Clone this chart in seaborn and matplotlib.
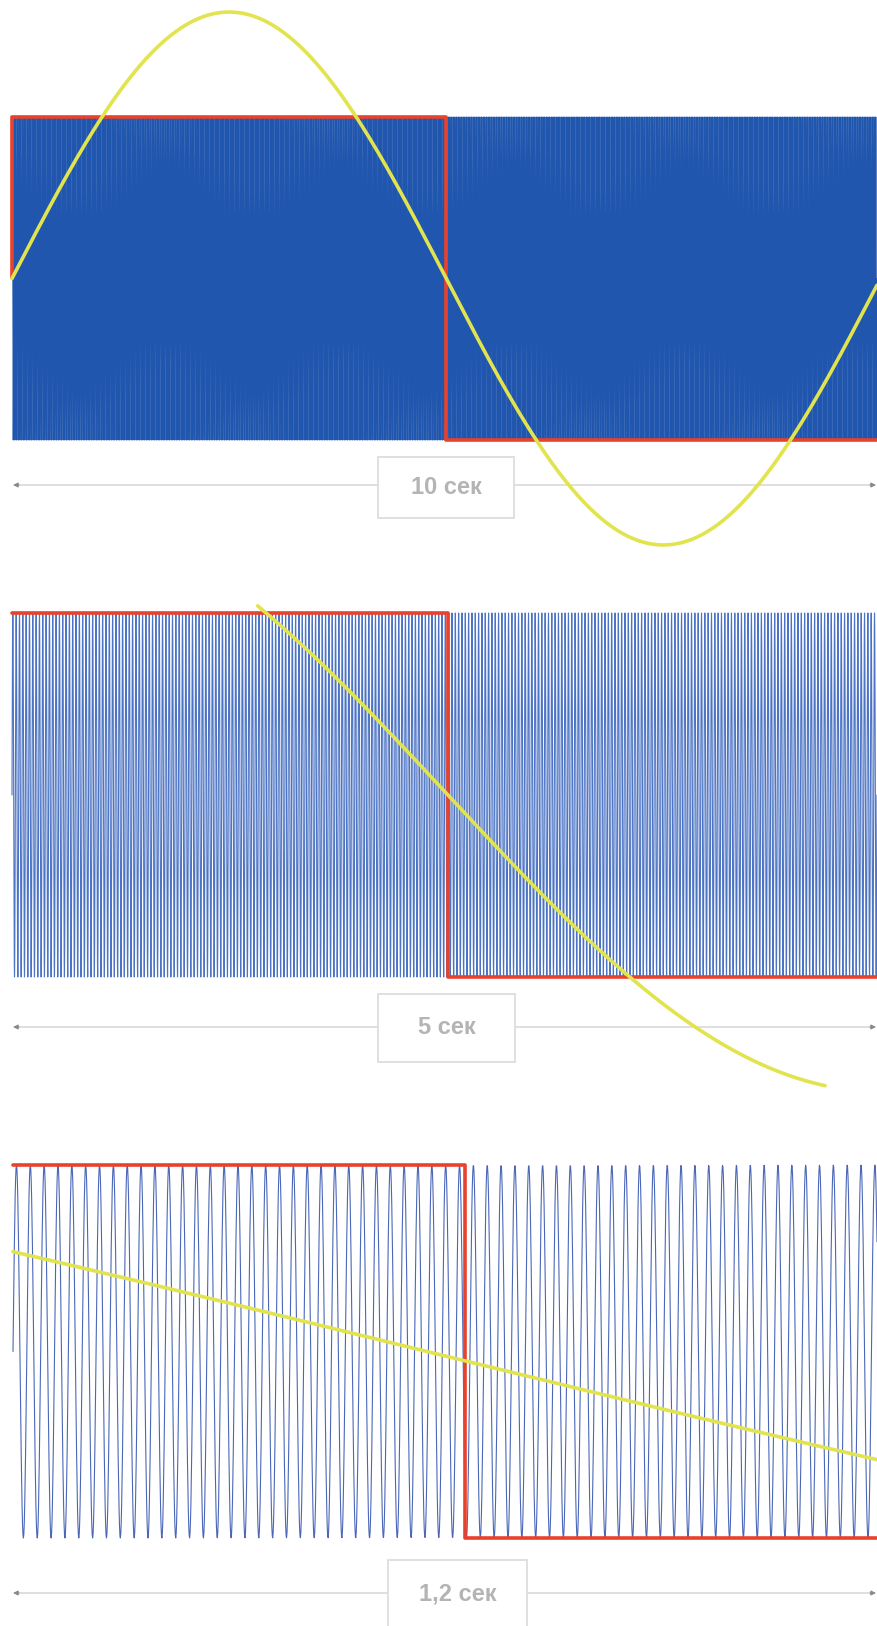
import numpy as np
import pandas as pd
import matplotlib
matplotlib.use('Agg')
import matplotlib.pyplot as plt
from matplotlib.patches import Rectangle, FancyArrowPatch
import seaborn as sns

# values
durations = [10, 5, 1.2]                      # seconds shown in each panel
span_labels = ['10 сек', '5 сек', '1,2 сек']
carrier_hz = 52                               # blue carrier, ~62 cycles in 1.2 s

# red keying signal: corner points (time, level)
red_t = [[0, 0, 5.02, 5.02, 10], [0, 2.52, 2.52, 5], [0, 0.628, 0.628, 1.2]]
red_v = [[0, 1, 1, -1, -1], [1, 1, -1, -1], [1, 1, -1, -1]]

# yellow slow sine: period (s), amplitude (x carrier), falling zero crossing (s), visible from/to (s)
yel_period = [10.04, 10.0, 10.8]
yel_amp = [1.65, 1.63, 1.63]
yel_zero = [5.02, 2.52, 0.575]
yel_from = [0, 1.42, 0]
yel_to = [10, 4.70, 1.2]

# colours of the carrier in each panel (denser panels read darker)
blue_colors = ['#2056ad', '#4d74c4', '#4b67b8']

# layout in pixels of the 877x1626 picture
W, H = 877, 1626
bands = [(12, 877, 117, 440), (12, 877, 613, 977), (13, 877, 1165, 1538)]
arrow_y = [485, 1027, 1593]
boxes = [(378, 457, 514, 518), (378, 994, 515, 1062), (388, 1560, 527, 1628)]

sns.set_theme(style='white')
plt.rcParams['font.family'] = ['Liberation Sans', 'DejaVu Sans']

fig = plt.figure(figsize=(W / 100, H / 100), dpi=100)

for i in range(3):
    x0, x1, top, bot = bands[i]
    ax = fig.add_axes([x0 / W, 1 - bot / H, (x1 - x0) / W, (bot - top) / H])
    dur = durations[i]

    # carrier
    t = np.linspace(0, dur, int(carrier_hz * dur * 32) + 1)
    carrier = pd.DataFrame({'t': t, 'v': np.sin(2 * np.pi * carrier_hz * t)})
    sns.lineplot(data=carrier, x='t', y='v', ax=ax, color=blue_colors[i], lw=0.8,
                 estimator=None, sort=False, clip_on=False)

    # red keying
    sns.lineplot(x=red_t[i], y=red_v[i], ax=ax, color='#e8412c', lw=2.6,
                 estimator=None, sort=False, clip_on=False)

    # yellow slow sine
    ty = np.linspace(yel_from[i], yel_to[i], 400)
    yy = -yel_amp[i] * np.sin(2 * np.pi * (ty - yel_zero[i]) / yel_period[i])
    sns.lineplot(x=ty, y=yy, ax=ax, color='#e2e44f', lw=2.6,
                 estimator=None, sort=False, clip_on=False)

    ax.set_xlim(0, dur)
    ax.set_ylim(-1, 1)
    ax.axis('off')

    # span arrow with label box
    ya = 1 - arrow_y[i] / H
    fig.add_artist(FancyArrowPatch((13 / W, ya), (876 / W, ya), transform=fig.transFigure,
                                   arrowstyle='-', color='#d2d2d2', lw=1.0, zorder=-2))
    for xs, xe in [(19, 13), (870, 876)]:
        fig.add_artist(FancyArrowPatch((xs / W, ya), (xe / W, ya), transform=fig.transFigure,
                                       arrowstyle='-|>', mutation_scale=7, color='#8a8a8a',
                                       lw=0.8, zorder=-2, shrinkA=0, shrinkB=0))
    bx0, by0, bx1, by1 = boxes[i]
    fig.add_artist(Rectangle((bx0 / W, 1 - by1 / H), (bx1 - bx0) / W, (by1 - by0) / H,
                             transform=fig.transFigure, facecolor='white',
                             edgecolor='#dddddd', lw=1.3, zorder=-1))
    fig.text((bx0 + bx1) / 2 / W, 1 - (by0 + by1) / 2 / H, span_labels[i],
             ha='center', va='center', fontsize=17, fontweight='bold',
             color='#b4b4b4', zorder=-0.5)

fig.savefig('out.png', dpi=100)
